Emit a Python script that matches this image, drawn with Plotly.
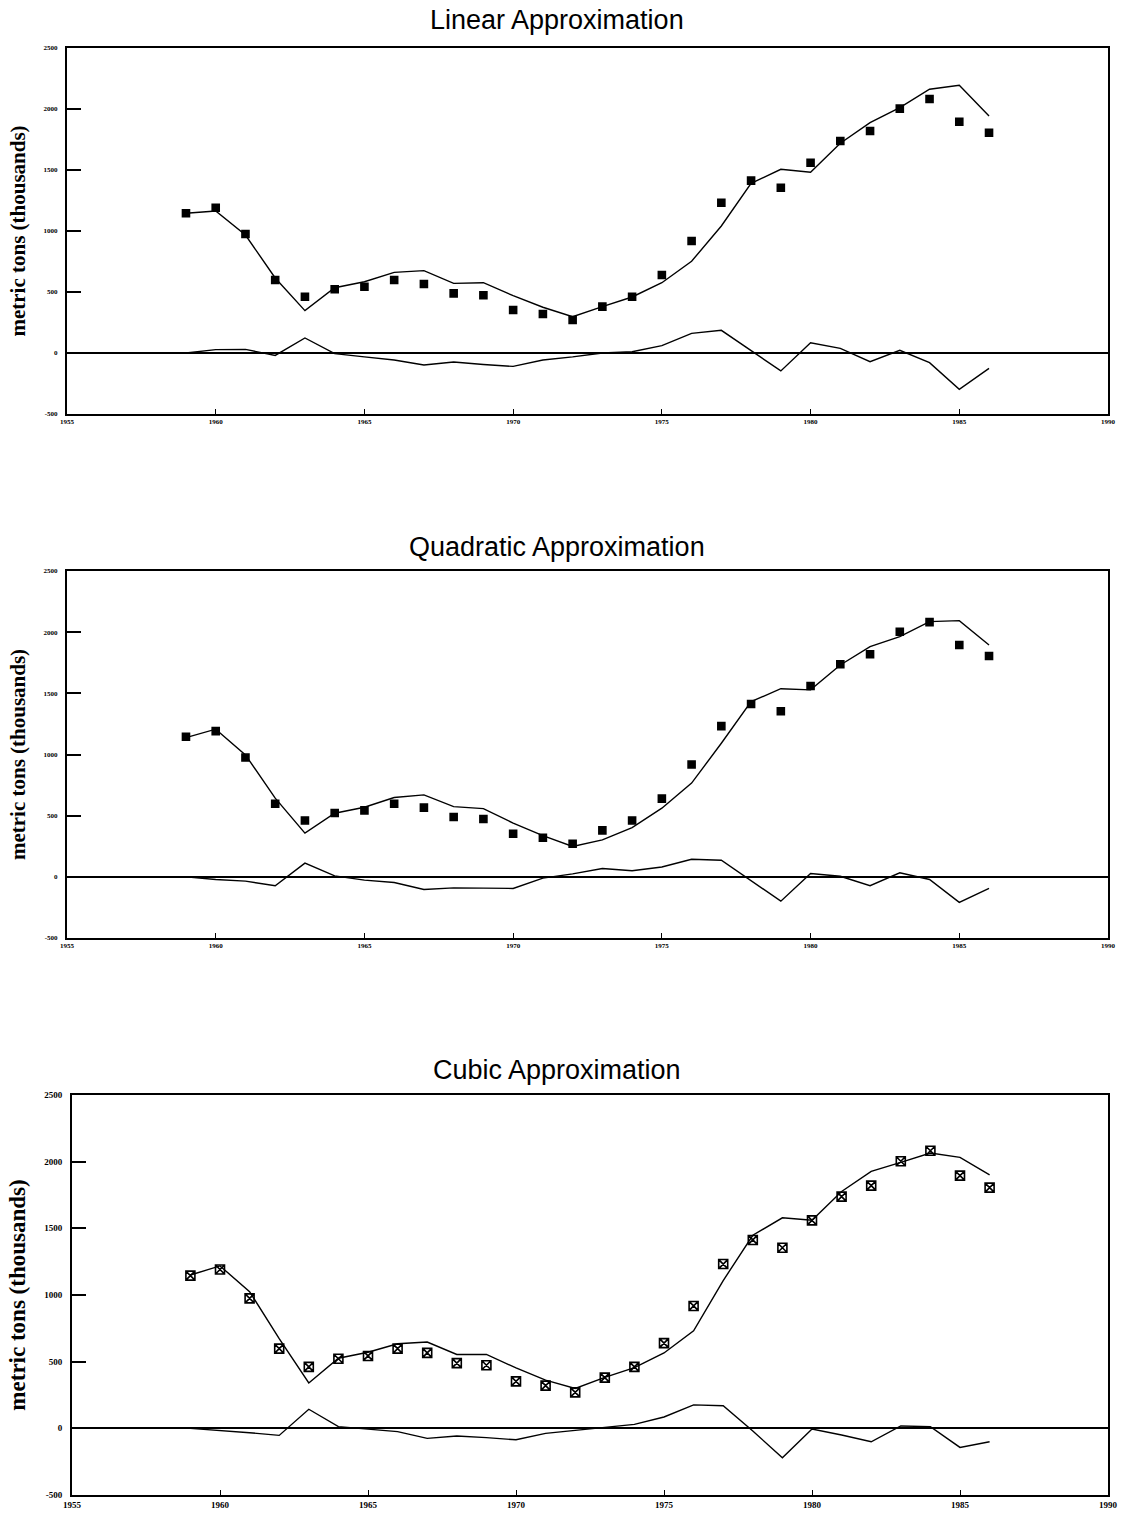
import plotly.graph_objects as go

years = list(range(1959, 1987))
actual = [1145, 1191, 975, 598, 461, 522, 543, 598, 566, 489, 473, 352, 320, 270,
          380, 461, 639, 918, 1232, 1413, 1354, 1560, 1738, 1820, 2003, 2082, 1895, 1805]

linear_fit = [1145, 1164, 967, 615, 347, 535, 584, 661, 675, 571, 576, 470, 375, 298,
              380, 459, 576, 752, 1041, 1391, 1506, 1481, 1719, 1888, 2011, 2162, 2194, 1943]
linear_resid = [0, 28, 30, -20, 123, -5, -32, -57, -98, -74, -94, -110, -57, -32,
                0, 10, 60, 161, 186, 20, -147, 84, 38, -71, 22, -79, -298, -126]

quad_fit = [1138, 1207, 997, 643, 357, 520, 569, 648, 670, 574, 558, 439, 337, 248,
            302, 403, 561, 766, 1092, 1432, 1538, 1528, 1732, 1882, 1963, 2086, 2094, 1895]
quad_resid = [0, -22, -35, -73, 112, 8, -27, -46, -103, -90, -92, -95, -11, 24,
              68, 50, 80, 144, 136, -30, -199, 27, 5, -73, 33, -22, -209, -95]

cubic_fit = [1150, 1218, 1025, 672, 340, 526, 571, 634, 647, 554, 554, 453, 362, 299,
             382, 455, 565, 731, 1108, 1448, 1579, 1561, 1776, 1927, 1995, 2065, 2032, 1901]
cubic_resid = [0, -15, -33, -53, 143, 13, -8, -25, -75, -58, -70, -86, -38, -15,
               5, 30, 85, 176, 169, -20, -221, -5, -50, -101, 18, 13, -143, -101]

titles = ["Linear Approximation", "Quadratic Approximation", "Cubic Approximation"]
y_title = "metric tons (thousands)"
y_tickvals = [-500, 0, 500, 1000, 1500, 2000, 2500]
y_ticktext = ["-500", "0", "500", "1000", "1500", "2000", "2500"]
x_tickvals = [1955, 1960, 1965, 1970, 1975, 1980, 1985, 1990]
x_ticktext = ["1955", "1960", "1965", "1970", "1975", "1980", "1985", "1990"]

W, H = 1125, 1515
panels = [
    dict(fit=linear_fit, resid=linear_resid, left=67, right=1108, top=48, bottom=414,
         title_y=20, marker="square", msize=7, tfont=7, yfont=21),
    dict(fit=quad_fit, resid=quad_resid, left=67, right=1108, top=571, bottom=938,
         title_y=547, marker="square", msize=7, tfont=7, yfont=21),
    dict(fit=cubic_fit, resid=cubic_resid, left=72, right=1108, top=1095, bottom=1495,
         title_y=1070, marker="square-x-open", msize=9, tfont=9, yfont=23),
]

fig = go.Figure()
layout = dict(width=W, height=H, margin=dict(l=0, r=0, t=0, b=0, autoexpand=False),
              paper_bgcolor="white", plot_bgcolor="white", showlegend=False,
              annotations=[])

for i, p in enumerate(panels):
    k = "" if i == 0 else str(i + 1)
    xa, ya = "x" + k, "y" + k
    line = dict(color="black", width=1.4)
    fig.add_trace(go.Scatter(x=years, y=p["fit"], mode="lines", line=line, xaxis=xa, yaxis=ya))
    fig.add_trace(go.Scatter(x=years, y=p["resid"], mode="lines", line=line, xaxis=xa, yaxis=ya))
    fig.add_trace(go.Scatter(x=years, y=actual, mode="markers", xaxis=xa, yaxis=ya,
                             marker=dict(symbol=p["marker"], size=p["msize"], color="black",
                                         line=dict(color="black", width=1.6))))
    xdom = [p["left"] / W, p["right"] / W]
    ydom = [(H - p["bottom"]) / H, (H - p["top"]) / H]
    tickfont = dict(family="Liberation Serif", size=p["tfont"], color="black", weight="bold")
    layout["xaxis" + k] = dict(domain=xdom, range=[1955, 1990], anchor=ya, automargin=False,
                               tickvals=x_tickvals, ticktext=x_ticktext,
                               ticks="inside", ticklen=5, tickcolor="black", tickwidth=1,
                               showline=True, linecolor="black", linewidth=2, mirror=True,
                               showgrid=False, zeroline=False, tickfont=tickfont)
    layout["yaxis" + k] = dict(domain=ydom, range=[-500, 2500], anchor=xa, automargin=False,
                               tickvals=y_tickvals, ticktext=y_ticktext,
                               ticks="inside", ticklen=14, tickcolor="black", tickwidth=1.5,
                               showline=True, linecolor="black", linewidth=2, mirror=True,
                               showgrid=False, zeroline=True, zerolinecolor="black",
                               zerolinewidth=1.6, tickfont=tickfont, ticklabelstandoff=6,
                               title=dict(text=y_title, standoff=12,
                                          font=dict(family="Liberation Serif", size=p["yfont"],
                                                    color="black", weight="bold")))
    layout["annotations"].append(dict(text=titles[i], xref="paper", yref="paper",
                                      x=0.495, y=1 - p["title_y"] / H, xanchor="center",
                                      yanchor="middle", showarrow=False,
                                      font=dict(family="Liberation Sans", size=27, color="black")))

fig.update_layout(**layout)
fig.write_html("out.html")
